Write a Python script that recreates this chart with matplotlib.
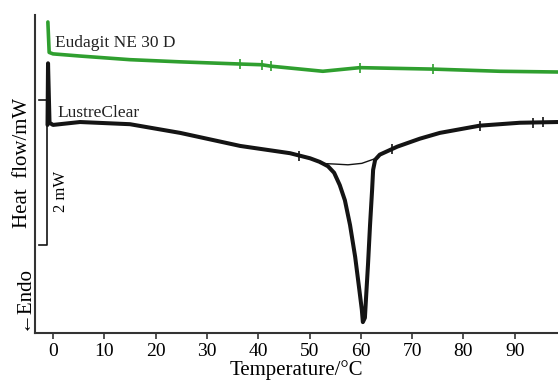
import matplotlib
matplotlib.use("Agg")
import matplotlib.pyplot as plt
import numpy as np

# --- data (temperature in °C, heat flow in mW, arbitrary offset) ---
green_T = [-1.0, -0.75, 0.0, 5.3, 15.0, 24.8, 36.5, 40.7, 42.5, 52.6, 59.8, 74.1, 87.1, 98.4]
green_H = [4.29, 3.87, 3.85, 3.82, 3.77, 3.74, 3.71, 3.70, 3.68, 3.61, 3.66, 3.64, 3.61, 3.60]

black_T = [-1.07, -0.97, -0.68, 0.0, 5.26, 15.0, 24.8, 36.5, 46.2, 50.1, 52.0, 53.6, 54.8, 55.9,
           56.9, 57.9, 58.9, 59.6, 60.2, 60.4, 60.8, 61.0, 61.4, 61.8, 62.2, 62.4, 62.8, 63.7,
           67.1, 71.5, 75.4, 83.2, 91.0, 98.4]
black_H = [2.87, 3.72, 2.90, 2.87, 2.91, 2.88, 2.76, 2.58, 2.48, 2.41, 2.36, 2.30, 2.21, 2.04,
           1.83, 1.49, 1.05, 0.66, 0.32, 0.15, 0.21, 0.46, 0.94, 1.49, 1.97, 2.25, 2.39, 2.46,
           2.57, 2.68, 2.76, 2.86, 2.90, 2.91]

base_T = [52.0, 55.0, 57.5, 60.2, 62.6]
base_H = [2.34, 2.33, 2.32, 2.34, 2.40]

green_marks = [36.5, 40.7, 42.5, 59.8, 74.1]
black_marks = [48.0, 66.0, 83.2, 93.5, 95.5]

xticks = [0, 10, 20, 30, 40, 50, 60, 70, 80, 90]
scale_bar = [1.21, 3.21]  # 2 mW

fig = plt.figure(figsize=(5.58, 3.83), dpi=100)
ax = fig.add_axes([35/558, 50/383, 1 - 35/558, (333-15)/383])
serif = ["Liberation Serif", "DejaVu Serif"]

green_c = "#2f9f2f"
black_c = "#141414"

ax.plot(green_T, green_H, color=green_c, lw=2.6, solid_joinstyle="round", solid_capstyle="round")
ax.plot(black_T, black_H, color=black_c, lw=2.9, solid_joinstyle="round", solid_capstyle="round")
ax.plot(base_T, base_H, color=black_c, lw=1.0)

# small analysis markers on curves
gm_y = np.interp(green_marks, green_T[2:], green_H[2:])
ax.plot(green_marks, gm_y, ls="none", marker="|", ms=7, mew=1.2, color=green_c)
bm_T = np.array(black_T)
bm_H = np.array(black_H)
sel = (bm_T > 0) & ((bm_T < 53) | (bm_T > 63))
bm_y = np.interp(black_marks, bm_T[sel], bm_H[sel])
ax.plot(black_marks, bm_y, ls="none", marker="|", ms=7, mew=1.2, color=black_c)

# scale bar
ax.plot([-2.7, -1.1, -1.1, -2.7], [scale_bar[1], scale_bar[1], scale_bar[0], scale_bar[0]],
        color=black_c, lw=1.2)
ax.text(1.6, 1.95, "2 mW", rotation=90, ha="center", va="center",
        fontsize=12, family=serif)

ax.text(0.4, 4.0, "Eudagit NE 30 D", ha="left", va="center", fontsize=12.5, family=serif, color="#222222")
ax.text(0.8, 3.03, "LustreClear", ha="left", va="center", fontsize=12.5, family=serif, color="#222222")

ax.set_xlim(-3.51, 98.44)
ax.set_ylim(0, (333-15)/72.5)
ax.set_xticks(xticks)
ax.set_xticklabels([str(t) for t in xticks], family=serif, fontsize=14)
ax.set_yticks([])
ax.tick_params(axis="x", direction="out", length=4, width=1.2, pad=3, color="#333333")
for s in ["top", "right"]:
    ax.spines[s].set_visible(False)
for s in ["left", "bottom"]:
    ax.spines[s].set_linewidth(1.5)
    ax.spines[s].set_color("#333333")

ax.set_xlabel("Temperature/°C", family=serif, fontsize=15, labelpad=0)
fig.text(23/558, (383-163)/383, "Heat  flow/mW", rotation=90, ha="center", va="center",
         fontsize=15, family=serif)
fig.text(23/558, (383-298)/383, "←Endo", rotation=90, ha="center", va="center",
         fontsize=15, family=serif)

fig.savefig("out.png", dpi=100)
